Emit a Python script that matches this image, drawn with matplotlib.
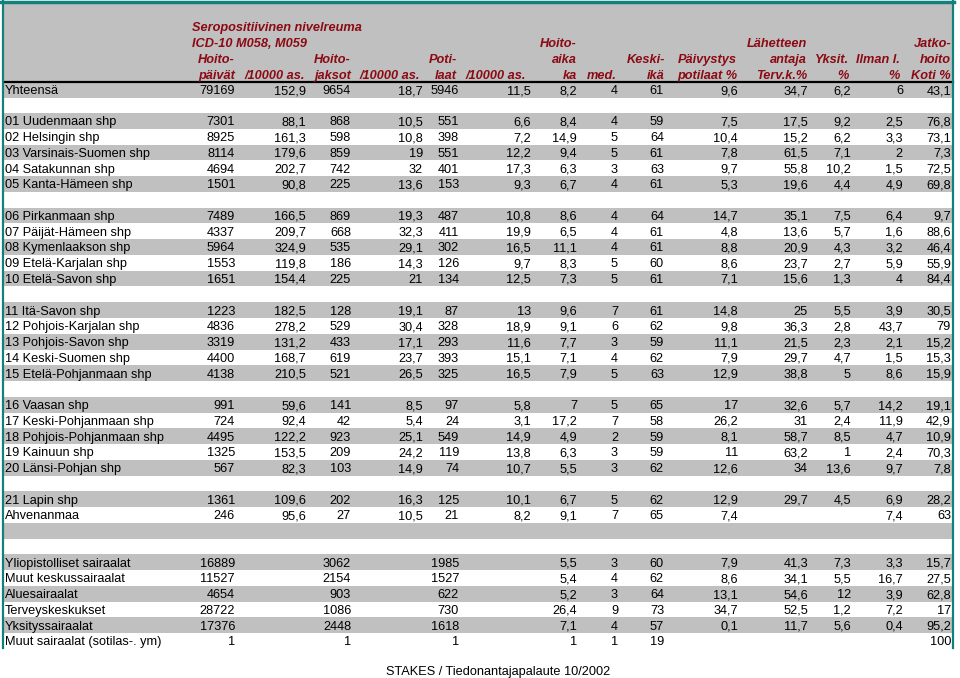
import matplotlib
matplotlib.use("Agg")
import matplotlib.pyplot as plt
from matplotlib.patches import Rectangle

# --- data (STAKES hilmo, seropositiivinen nivelreuma) ---
title_lines = ["Seropositiivinen nivelreuma", "ICD-10 M058, M059"]

total_label = "Yhteensä"
total_values = [79169, 152.9, 9654, 18.7, 5946, 11.5, 8.2, 4, 61, 9.6, 34.7, 6.2, 6, 43.1]

row_labels = [
    "01 Uudenmaan shp", "02 Helsingin shp", "03 Varsinais-Suomen shp",
    "04 Satakunnan shp", "05 Kanta-Hämeen shp",
    "06 Pirkanmaan shp", "07 Päijät-Hämeen shp", "08 Kymenlaakson shp",
    "09 Etelä-Karjalan shp", "10 Etelä-Savon shp",
    "11 Itä-Savon shp", "12 Pohjois-Karjalan shp", "13 Pohjois-Savon shp",
    "14 Keski-Suomen shp", "15 Etelä-Pohjanmaan shp",
    "16 Vaasan shp", "17 Keski-Pohjanmaan shp", "18 Pohjois-Pohjanmaan shp",
    "19 Kainuun shp", "20 Länsi-Pohjan shp",
    "21 Lapin shp", "Ahvenanmaa",
    "Yliopistolliset sairaalat", "Muut keskussairaalat", "Aluesairaalat",
    "Terveyskeskukset", "Yksityssairaalat", "Muut sairaalat (sotilas-. ym)",
]

hoitopaivat = [7301, 8925, 8114, 4694, 1501, 7489, 4337, 5964, 1553, 1651,
               1223, 4836, 3319, 4400, 4138, 991, 724, 4495, 1325, 567,
               1361, 246, 16889, 11527, 4654, 28722, 17376, 1]
hoitopaivat_10k = [88.1, 161.3, 179.6, 202.7, 90.8, 166.5, 209.7, 324.9, 119.8, 154.4,
                   182.5, 278.2, 131.2, 168.7, 210.5, 59.6, 92.4, 122.2, 153.5, 82.3,
                   109.6, 95.6, None, None, None, None, None, None]
hoitojaksot = [868, 598, 859, 742, 225, 869, 668, 535, 186, 225,
               128, 529, 433, 619, 521, 141, 42, 923, 209, 103,
               202, 27, 3062, 2154, 903, 1086, 2448, 1]
hoitojaksot_10k = [10.5, 10.8, 19, 32, 13.6, 19.3, 32.3, 29.1, 14.3, 21,
                   19.1, 30.4, 17.1, 23.7, 26.5, 8.5, 5.4, 25.1, 24.2, 14.9,
                   16.3, 10.5, None, None, None, None, None, None]
potilaat = [551, 398, 551, 401, 153, 487, 411, 302, 126, 134,
            87, 328, 293, 393, 325, 97, 24, 549, 119, 74,
            125, 21, 1985, 1527, 622, 730, 1618, 1]
potilaat_10k = [6.6, 7.2, 12.2, 17.3, 9.3, 10.8, 19.9, 16.5, 9.7, 12.5,
                13, 18.9, 11.6, 15.1, 16.5, 5.8, 3.1, 14.9, 13.8, 10.7,
                10.1, 8.2, None, None, None, None, None, None]
hoitoaika_ka = [8.4, 14.9, 9.4, 6.3, 6.7, 8.6, 6.5, 11.1, 8.3, 7.3,
                9.6, 9.1, 7.7, 7.1, 7.9, 7, 17.2, 4.9, 6.3, 5.5,
                6.7, 9.1, 5.5, 5.4, 5.2, 26.4, 7.1, 1]
hoitoaika_med = [4, 5, 5, 3, 4, 4, 4, 4, 5, 5,
                 7, 6, 3, 4, 5, 5, 7, 2, 3, 3,
                 5, 7, 3, 4, 3, 9, 4, 1]
keski_ika = [59, 64, 61, 63, 61, 64, 61, 61, 60, 61,
             61, 62, 59, 62, 63, 65, 58, 59, 59, 62,
             62, 65, 60, 62, 64, 73, 57, 19]
paivystys_pct = [7.5, 10.4, 7.8, 9.7, 5.3, 14.7, 4.8, 8.8, 8.6, 7.1,
                 14.8, 9.8, 11.1, 7.9, 12.9, 17, 26.2, 8.1, 11, 12.6,
                 12.9, 7.4, 7.9, 8.6, 13.1, 34.7, 0.1, None]
lahete_tk_pct = [17.5, 15.2, 61.5, 55.8, 19.6, 35.1, 13.6, 20.9, 23.7, 15.6,
                 25, 36.3, 21.5, 29.7, 38.8, 32.6, 31, 58.7, 63.2, 34,
                 29.7, None, 41.3, 34.1, 54.6, 52.5, 11.7, None]
yksit_pct = [9.2, 6.2, 7.1, 10.2, 4.4, 7.5, 5.7, 4.3, 2.7, 1.3,
             5.5, 2.8, 2.3, 4.7, 5, 5.7, 2.4, 8.5, 1, 13.6,
             4.5, None, 7.3, 5.5, 12, 1.2, 5.6, None]
ilman_l_pct = [2.5, 3.3, 2, 1.5, 4.9, 6.4, 1.6, 3.2, 5.9, 4,
               3.9, 43.7, 2.1, 1.5, 8.6, 14.2, 11.9, 4.7, 2.4, 9.7,
               6.9, 7.4, 3.3, 16.7, 3.9, 7.2, 0.4, None]
jatkohoito_koti_pct = [76.8, 73.1, 7.3, 72.5, 69.8, 9.7, 88.6, 46.4, 55.9, 84.4,
                       30.5, 79, 15.2, 15.3, 15.9, 19.1, 42.9, 10.9, 70.3, 7.8,
                       28.2, 63, 15.7, 27.5, 62.8, 17, 95.2, 100]

columns = [hoitopaivat, hoitopaivat_10k, hoitojaksot, hoitojaksot_10k, potilaat,
           potilaat_10k, hoitoaika_ka, hoitoaika_med, keski_ika, paivystys_pct,
           lahete_tk_pct, yksit_pct, ilman_l_pct, jatkohoito_koti_pct]

# header text per column, bottom-aligned on four header lines
col_headers = [
    ["Hoito-", "päivät"], ["/10000 as."], ["Hoito-", "jaksot"], ["/10000 as."],
    ["Poti-", "laat"], ["/10000 as."], ["Hoito-", "aika", "ka"], ["med."],
    ["Keski-", "ikä"], ["Päivystys", "potilaat %"], ["Lähetteen", "antaja", "Terv.k.%"],
    ["Yksit.", "%"], ["Ilman l.", "%"], ["Jatko-", "hoito", "Koti %"],
]

footer = "STAKES / Tiedonantajapalaute 10/2002"

# --- layout (pixel coordinates, y down) ---
col_right = [235, 306, 351, 423, 459, 531, 577, 618, 664, 738, 808, 851, 903, 951]
head_right = [235, 305, 351, 420, 457, 526, 577, 617, 665, 737, 807, 849, 900, 951]
head_base = [30.7, 46.7, 62.7, 78.6]
# slot of each data row in the body (gaps are blank rows)
row_slots = [0, 1, 2, 3, 4, 6, 7, 8, 9, 10, 12, 13, 14, 15, 16,
             18, 19, 20, 21, 22, 24, 25, 28, 29, 30, 31, 32, 33]
y0, dy = 121.0, 15.76
n_slots = 34
base_off = 4.4

GRAY = "#c0c0c0"
TEAL = "#12807c"
RED = "#8b0a14"
FONT = "Liberation Sans"
FS = 9.2


def fmt(v):
    if v is None:
        return ""
    if float(v).is_integer():
        return str(int(v))
    return f"{v:.1f}".replace(".", ",")


fig = plt.figure(figsize=(9.6, 6.78), dpi=100)
ax = fig.add_axes([0, 0, 1, 1])
ax.set_xlim(0, 960)
ax.set_ylim(678, 0)
ax.axis("off")

left, right = 4, 953
# header block + total row
ax.add_patch(Rectangle((left, 2), right - left, 95.5, color=GRAY, lw=0))
ax.plot([left, right], [82, 82], color="black", lw=1.6)
ax.plot([0, right + 1], [1.5, 1.5], color=TEAL, lw=2.5)
ax.plot([3.2, 3.2], [1, 648], color=TEAL, lw=1.6)
ax.plot([953, 953], [1, 648], color=TEAL, lw=1.6)

# striped body
for s in range(0, n_slots, 2):
    yc = y0 + s * dy
    ax.add_patch(Rectangle((left, yc - dy / 2), right - left, dy, color=GRAY, lw=0))

# header text
hdr = dict(color=RED, fontsize=FS, fontweight="bold", fontstyle="italic",
           family=FONT, va="baseline")
for i, line in enumerate(title_lines):
    ax.text(192, head_base[i], line, ha="left", **hdr)
for x, lines in zip(head_right, col_headers):
    for k, t in enumerate(lines):
        ax.text(x, head_base[4 - len(lines) + k], t, ha="right", **hdr)

txt = dict(fontsize=FS, family=FONT, va="baseline", color="black")

# total row
ax.text(5, 94.3, total_label, ha="left", **txt)
for x, v in zip(col_right, total_values):
    ax.text(x, 94.3, fmt(v), ha="right", **txt)

# body rows
for r, (label, slot) in enumerate(zip(row_labels, row_slots)):
    yb = y0 + slot * dy + base_off
    ax.text(5, yb, label, ha="left", **txt)
    for x, col in zip(col_right, columns):
        ax.text(x, yb, fmt(col[r]), ha="right", **txt)

ax.text(386, 675, footer, ha="left", **txt)

fig.savefig("out.png", dpi=100)
